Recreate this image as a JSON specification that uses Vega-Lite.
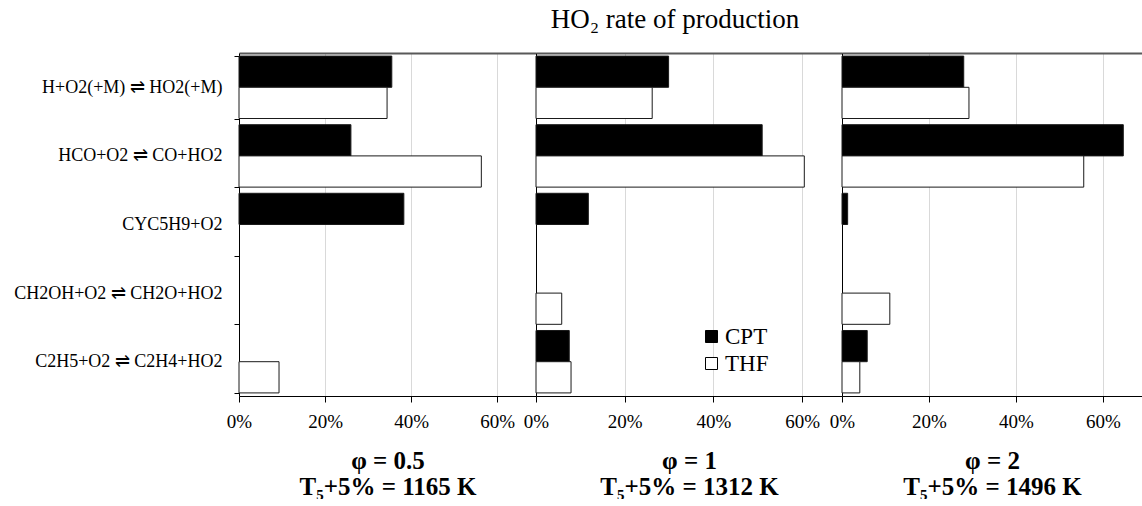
{
  "$schema": "https://vega.github.io/schema/vega-lite/v6.json",
  "autosize": {"type": "pad"},
  "padding": {"left": 13, "top": 6, "right": 0, "bottom": 0},
  "background": "white",
  "title": {"text": "HO₂ rate of production", "font": "Liberation Serif", "fontSize": 27, "fontWeight": "normal", "color": "black", "anchor": "middle", "frame": "group", "offset": 10, "dx": 436},
  "data": {"values": [
    {"phi": "0.5", "reaction": "H+O2(+M) ⇌ HO2(+M)", "fuel": "CPT", "value": 0.355},
    {"phi": "0.5", "reaction": "H+O2(+M) ⇌ HO2(+M)", "fuel": "THF", "value": 0.344},
    {"phi": "0.5", "reaction": "HCO+O2 ⇌ CO+HO2", "fuel": "CPT", "value": 0.260},
    {"phi": "0.5", "reaction": "HCO+O2 ⇌ CO+HO2", "fuel": "THF", "value": 0.563},
    {"phi": "0.5", "reaction": "CYC5H9+O2", "fuel": "CPT", "value": 0.383},
    {"phi": "0.5", "reaction": "C2H5+O2 ⇌ C2H4+HO2", "fuel": "THF", "value": 0.093},
    {"phi": "1", "reaction": "H+O2(+M) ⇌ HO2(+M)", "fuel": "CPT", "value": 0.299},
    {"phi": "1", "reaction": "H+O2(+M) ⇌ HO2(+M)", "fuel": "THF", "value": 0.262},
    {"phi": "1", "reaction": "HCO+O2 ⇌ CO+HO2", "fuel": "CPT", "value": 0.510},
    {"phi": "1", "reaction": "HCO+O2 ⇌ CO+HO2", "fuel": "THF", "value": 0.605},
    {"phi": "1", "reaction": "CYC5H9+O2", "fuel": "CPT", "value": 0.118},
    {"phi": "1", "reaction": "CH2OH+O2 ⇌ CH2O+HO2", "fuel": "THF", "value": 0.058},
    {"phi": "1", "reaction": "C2H5+O2 ⇌ C2H4+HO2", "fuel": "CPT", "value": 0.075},
    {"phi": "1", "reaction": "C2H5+O2 ⇌ C2H4+HO2", "fuel": "THF", "value": 0.079},
    {"phi": "2", "reaction": "H+O2(+M) ⇌ HO2(+M)", "fuel": "CPT", "value": 0.280},
    {"phi": "2", "reaction": "H+O2(+M) ⇌ HO2(+M)", "fuel": "THF", "value": 0.292},
    {"phi": "2", "reaction": "HCO+O2 ⇌ CO+HO2", "fuel": "CPT", "value": 0.647},
    {"phi": "2", "reaction": "HCO+O2 ⇌ CO+HO2", "fuel": "THF", "value": 0.556},
    {"phi": "2", "reaction": "CYC5H9+O2", "fuel": "CPT", "value": 0.013},
    {"phi": "2", "reaction": "CH2OH+O2 ⇌ CH2O+HO2", "fuel": "THF", "value": 0.110},
    {"phi": "2", "reaction": "C2H5+O2 ⇌ C2H4+HO2", "fuel": "CPT", "value": 0.058},
    {"phi": "2", "reaction": "C2H5+O2 ⇌ C2H4+HO2", "fuel": "THF", "value": 0.041}
  ]},
  "spacing": 0,
  "bounds": "flush",
  "config": {
    "view": {"stroke": null},
    "font": "Liberation Serif",
    "axis": {
      "labelFont": "Liberation Serif", "labelColor": "black", "domainColor": "black", "tickColor": "black",
      "titleFont": "Liberation Serif", "titleColor": "black"
    },
    "legend": {
      "orient": "none", "legendX": 461, "legendY": 272, "padding": 0,
      "symbolType": "square", "symbolSize": 144, "symbolStrokeColor": "black", "symbolStrokeWidth": 1,
      "labelFont": "Liberation Serif", "labelFontSize": 23, "labelColor": "black", "labelOffset": 2, "rowPadding": 3
    }
  },
  "resolve": {"scale": {"color": "shared"}, "legend": {"color": "shared"}},
  "hconcat": [
    {
      "width": 297, "height": 343,
      "transform": [{"filter": "datum.phi == '0.5'"}],
      "layer": [
        {
          "mark": {"type": "bar", "stroke": "#1a1a1a", "strokeWidth": 1},
          "encoding": {
            "y": {"field": "reaction", "type": "nominal", "sort": null,
              "scale": {"domain": ["H+O2(+M) ⇌ HO2(+M)", "HCO+O2 ⇌ CO+HO2", "CYC5H9+O2", "CH2OH+O2 ⇌ CH2O+HO2", "C2H5+O2 ⇌ C2H4+HO2"], "paddingInner": 0.09, "paddingOuter": 0.045},
              "axis": {"title": null, "labelFontSize": 18, "tickSize": 5, "labelPadding": 12, "tickBand": "extent", "labelLimit": 400}},
            "yOffset": {"field": "fuel", "type": "nominal", "scale": {"domain": ["CPT", "THF"], "paddingInner": 0, "paddingOuter": 0}},
            "x": {"field": "value", "type": "quantitative", "scale": {"domain": [0, 0.69], "nice": false},
              "axis": {"values": [0, 0.2, 0.4, 0.6], "format": ".0%", "labelFontSize": 19, "tickSize": 6, "labelPadding": 10,
                "grid": true, "gridColor": "#d9d9d9", "labelOverlap": false, "labelFlush": false,
                "title": ["φ = 0.5", "T₅+5% = 1165 K"], "titleFontSize": 25, "titleFontWeight": "bold", "titleLineHeight": 26, "titlePadding": 17}},
            "color": {"field": "fuel", "type": "nominal", "scale": {"domain": ["CPT", "THF"], "range": ["black", "white"]}, "legend": {"title": null}}
          }
        },
        {
          "mark": {"type": "rule", "strokeOpacity": 0},
          "encoding": {"x": {"datum": 0, "type": "quantitative",
            "axis": {"orient": "top", "labels": false, "ticks": false, "grid": false, "title": null, "domainColor": "#595959", "domainWidth": 2}}}
        }
      ],
      "resolve": {"axis": {"x": "independent"}}
    },
    {
      "width": 306, "height": 343,
      "transform": [{"filter": "datum.phi == '1'"}],
      "layer": [
        {
          "mark": {"type": "bar", "stroke": "#1a1a1a", "strokeWidth": 1},
          "encoding": {
            "y": {"field": "reaction", "type": "nominal", "sort": null,
              "scale": {"domain": ["H+O2(+M) ⇌ HO2(+M)", "HCO+O2 ⇌ CO+HO2", "CYC5H9+O2", "CH2OH+O2 ⇌ CH2O+HO2", "C2H5+O2 ⇌ C2H4+HO2"], "paddingInner": 0.09, "paddingOuter": 0.045},
              "axis": {"title": null, "labels": false, "ticks": false}},
            "yOffset": {"field": "fuel", "type": "nominal", "scale": {"domain": ["CPT", "THF"], "paddingInner": 0, "paddingOuter": 0}},
            "x": {"field": "value", "type": "quantitative", "scale": {"domain": [0, 0.69], "nice": false},
              "axis": {"values": [0, 0.2, 0.4, 0.6], "format": ".0%", "labelFontSize": 19, "tickSize": 6, "labelPadding": 10,
                "grid": true, "gridColor": "#d9d9d9", "labelOverlap": false, "labelFlush": false,
                "title": ["φ = 1", "T₅+5% = 1312 K"], "titleFontSize": 25, "titleFontWeight": "bold", "titleLineHeight": 26, "titlePadding": 17}},
            "color": {"field": "fuel", "type": "nominal", "scale": {"domain": ["CPT", "THF"], "range": ["black", "white"]}, "legend": {"title": null}}
          }
        },
        {
          "mark": {"type": "rule", "strokeOpacity": 0},
          "encoding": {"x": {"datum": 0, "type": "quantitative",
            "axis": {"orient": "top", "labels": false, "ticks": false, "grid": false, "title": null, "domainColor": "#595959", "domainWidth": 2}}}
        }
      ],
      "resolve": {"axis": {"x": "independent"}}
    },
    {
      "width": 300, "height": 343,
      "transform": [{"filter": "datum.phi == '2'"}],
      "layer": [
        {
          "mark": {"type": "bar", "stroke": "#1a1a1a", "strokeWidth": 1},
          "encoding": {
            "y": {"field": "reaction", "type": "nominal", "sort": null,
              "scale": {"domain": ["H+O2(+M) ⇌ HO2(+M)", "HCO+O2 ⇌ CO+HO2", "CYC5H9+O2", "CH2OH+O2 ⇌ CH2O+HO2", "C2H5+O2 ⇌ C2H4+HO2"], "paddingInner": 0.09, "paddingOuter": 0.045},
              "axis": {"title": null, "labels": false, "ticks": false}},
            "yOffset": {"field": "fuel", "type": "nominal", "scale": {"domain": ["CPT", "THF"], "paddingInner": 0, "paddingOuter": 0}},
            "x": {"field": "value", "type": "quantitative", "scale": {"domain": [0, 0.69], "nice": false},
              "axis": {"values": [0, 0.2, 0.4, 0.6], "format": ".0%", "labelFontSize": 19, "tickSize": 6, "labelPadding": 10,
                "grid": true, "gridColor": "#d9d9d9", "labelOverlap": false, "labelFlush": false,
                "title": ["φ = 2", "T₅+5% = 1496 K"], "titleFontSize": 25, "titleFontWeight": "bold", "titleLineHeight": 26, "titlePadding": 17}},
            "color": {"field": "fuel", "type": "nominal", "scale": {"domain": ["CPT", "THF"], "range": ["black", "white"]}, "legend": {"title": null}}
          }
        },
        {
          "mark": {"type": "rule", "strokeOpacity": 0},
          "encoding": {"x": {"datum": 0, "type": "quantitative",
            "axis": {"orient": "top", "labels": false, "ticks": false, "grid": false, "title": null, "domainColor": "#595959", "domainWidth": 2}}}
        }
      ],
      "resolve": {"axis": {"x": "independent"}}
    }
  ]
}
